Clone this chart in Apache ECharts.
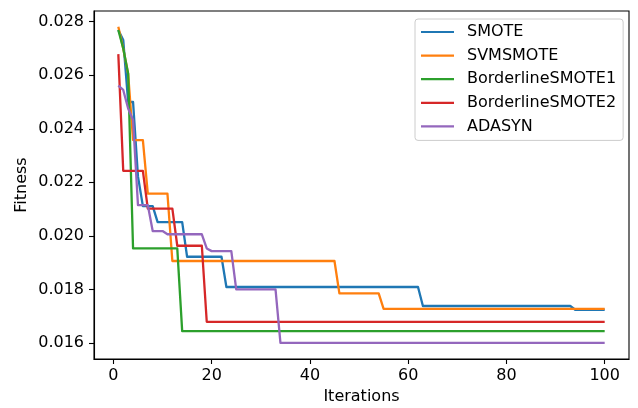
<!DOCTYPE html>
<html>
<head>
<meta charset="utf-8">
<script src="https://cdn.jsdelivr.net/npm/echarts@6/dist/echarts.min.js"></script>
<style>
    html, body { margin: 0; padding: 0; background: #fff; }
    #chart { width: 638px; height: 408px; }
</style>
</head>
<body>
<div id="chart"></div>
<script>
// series names, in legend order
var seriesNames = ['SMOTE', 'SVMSMOTE', 'BorderlineSMOTE1', 'BorderlineSMOTE2', 'ADASYN'];
var seriesColors = ['#1f77b4', '#ff7f0e', '#2ca02c', '#d62728', '#9467bd'];

// [iteration, fitness] at every corner of each curve
var smote = [[1, 0.02769], [2, 0.02732], [3, 0.02500], [4, 0.02500], [5, 0.02222], [6, 0.02111], [8, 0.02111],
    [9, 0.02051], [14, 0.02051], [15, 0.01922], [22, 0.01922], [23, 0.01809], [62, 0.01809], [63, 0.01738],
    [93, 0.01738], [94, 0.01724], [100, 0.01724]];
var svmsmote = [[1, 0.02781], [2, 0.02700], [3, 0.02605], [4, 0.02358], [6, 0.02358], [7, 0.02158], [11, 0.02158],
    [12, 0.01906], [45, 0.01906], [46, 0.01785], [54, 0.01785], [55, 0.01727], [100, 0.01727]];
var borderline1 = [[1, 0.02769], [2, 0.02700], [3, 0.02607], [4, 0.01953], [13, 0.01953], [14, 0.01644], [100, 0.01644]];
var borderline2 = [[1, 0.02679], [2, 0.02243], [6, 0.02243], [7, 0.02102], [12, 0.02102], [13, 0.01963],
    [18, 0.01963], [19, 0.01679], [100, 0.01679]];
var adasyn = [[1, 0.02561], [2, 0.02545], [3, 0.02476], [4, 0.02433], [5, 0.02115], [7, 0.02115], [8, 0.02018],
    [10, 0.02018], [11, 0.02006], [18, 0.02006], [19, 0.01953], [20, 0.01943], [24, 0.01943], [25, 0.01800],
    [33, 0.01800], [34, 0.01600], [100, 0.01600]];

// tick labels
var xTicks = [0, 20, 40, 60, 80, 100];
var yTicks = [0.016, 0.018, 0.020, 0.022, 0.024, 0.026, 0.028];

var allData = [smote, svmsmote, borderline1, borderline2, adasyn];
var fontFamily = '"DejaVu Sans", sans-serif';

var myChart = echarts.init(document.getElementById('chart'), null, { renderer: 'canvas' });

var option = {
    animation: false,
    backgroundColor: '#fff',
    textStyle: { fontFamily: fontFamily },
    grid: {
        left: 94,
        right: 9,
        top: 11,
        bottom: 49,
        outerBoundsMode: 'none',
        show: true,
        borderColor: '#000',
        borderWidth: 1.1,
        backgroundColor: 'transparent'
    },
    legend: {
        orient: 'vertical',
        left: 415,
        top: 19,
        padding: [5, 7, 6, 6],
        itemWidth: 33,
        itemHeight: 14,
        itemGap: 7.6,
        icon: 'path://M0,0h33v2.2h-33z',
        backgroundColor: 'rgba(255,255,255,0.8)',
        borderColor: '#cccccc',
        borderWidth: 1,
        borderRadius: 3,
        textStyle: {
            color: '#000',
            fontSize: 16,
            fontFamily: fontFamily,
            padding: [0, 0, 0, 8]
        },
        data: seriesNames
    },
    xAxis: {
        type: 'value',
        min: -3.95,
        max: 104.95,
        name: 'Iterations',
        nameLocation: 'middle',
        nameGap: 30,
        nameMoveOverlap: false,
        nameTextStyle: { color: '#000', fontSize: 16, fontFamily: fontFamily },
        axisLine: { show: true, onZero: false, lineStyle: { color: '#000', width: 1.1 } },
        axisTick: { show: true, length: 5, lineStyle: { color: '#000', width: 1.1 }, customValues: xTicks },
        axisLabel: { color: '#000', fontSize: 16, margin: 9, customValues: xTicks },
        splitLine: { show: false }
    },
    yAxis: {
        type: 'value',
        min: 0.0154,
        max: 0.0284,
        name: 'Fitness',
        nameLocation: 'middle',
        nameGap: 64,
        nameMoveOverlap: false,
        nameTextStyle: { color: '#000', fontSize: 16, fontFamily: fontFamily },
        axisLine: { show: true, onZero: false, lineStyle: { color: '#000', width: 1.1 } },
        axisTick: { show: true, length: 5, lineStyle: { color: '#000', width: 1.1 }, customValues: yTicks },
        axisLabel: {
            color: '#000',
            fontSize: 16,
            margin: 10,
            customValues: yTicks,
            formatter: function (v) { return v.toFixed(3); }
        },
        splitLine: { show: false }
    },
    series: allData.map(function (d, i) {
        return {
            name: seriesNames[i],
            type: 'line',
            symbol: 'none',
            color: seriesColors[i],
            lineStyle: { width: 2.3, color: seriesColors[i], join: 'round' },
            data: d
        };
    })
};

myChart.setOption(option);
</script>
</body>
</html>
